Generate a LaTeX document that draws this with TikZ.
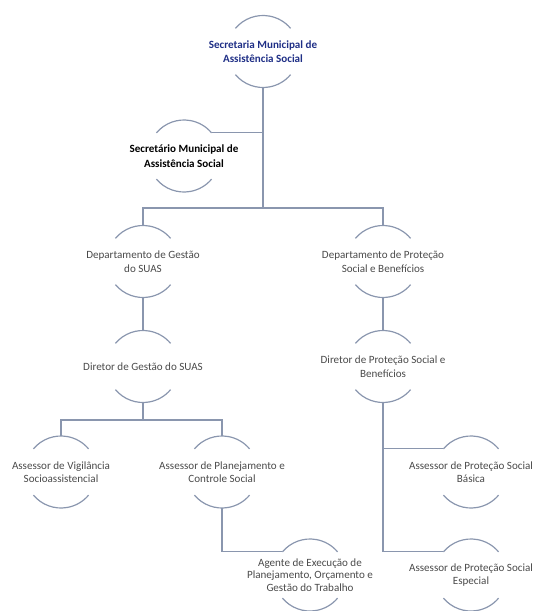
\documentclass[tikz,border=0pt]{standalone}
\usepackage{fontspec}
\setmainfont{Carlito}
\usepackage{xcolor}
\usetikzlibrary{positioning}

\definecolor{linegray}{HTML}{8A96AE}
\definecolor{textgray}{HTML}{4A4A4A}
\definecolor{headblue}{HTML}{1F2F86}

\begin{document}
\begin{tikzpicture}[
    x=0.75pt, y=-0.75pt,
    unit/.style={circle, minimum size=54pt, inner sep=0pt, outer sep=0pt},
    txt/.style={font=\fontsize{8.3}{10.2}\selectfont, text=textgray, align=center},
    arcline/.style={draw=linegray, line width=0.9pt},
    connector/.style={draw=linegray, line width=0.9pt},
]
    \useasboundingbox (0,0) rectangle (533,611);

    % Top of the chart
    \node[unit, label={[txt, text=headblue, font=\fontsize{8.3}{10.8}\selectfont\bfseries]center:Secretaria Municipal de\\Assistência Social}] (sec) at (263,51.5) {};
    \node[unit, label={[txt, text=black, font=\fontsize{8.3}{10.8}\selectfont\bfseries]center:Secretário Municipal de\\Assistência Social}] (secr) at (184,156) {};

    % Departments
    \node[unit, label={[txt]center:Departamento de Gestão\\do SUAS}] (depg) at (143,261.5) {};
    \node[unit, label={[txt]center:Departamento de Proteção\\Social e Benefícios}] (depp) at (383,261.5) {};

    % Directors
    \node[unit, label={[txt]center:Diretor de Gestão do SUAS}] (dirg) at (143,366.5) {};
    \node[unit, label={[txt]center:Diretor de Proteção Social e\\Benefícios}] (dirp) at (383,366.5) {};

    % Advisors
    \node[unit, label={[txt]center:Assessor de Vigilância\\Socioassistencial}] (vig) at (61,472) {};
    \node[unit, label={[txt]center:Assessor de Planejamento e\\Controle Social}] (plan) at (222,472) {};
    \node[unit, label={[txt, font=\fontsize{8.3}{9.4}\selectfont]center:Agente de Execução de\\Planejamento, Orçamento e\\Gestão do Trabalho}] (agen) at (310,575) {};
    \node[unit, label={[txt]center:Assessor de Proteção Social\\Básica}] (basi) at (471,472) {};
    \node[unit, label={[txt]center:Assessor de Proteção Social\\Especial}] (espe) at (471,575) {};

    % Arcs above and below each unit
    \foreach \n in {sec, secr, depg, depp, dirg, dirp, vig, plan, agen, basi, espe} {
        \draw[arcline] (\n.140) arc[start angle=140, end angle=40, radius=27pt];
        \draw[arcline] (\n.220) arc[start angle=220, end angle=320, radius=27pt];
    }

    % Junctions
    \coordinate (bus) at (263,208);
    \coordinate (busg) at (143,420);

    % Connect everything
    \draw[connector] (sec.south) -- (bus);
    \draw[connector] (secr.40) -| (sec.south);
    \draw[connector] (depg.north) |- (bus) -| (depp.north);
    \draw[connector] (depg.south) -- (dirg.north);
    \draw[connector] (depp.south) -- (dirp.north);
    \draw[connector] (dirg.south) -- (busg);
    \draw[connector] (vig.north) |- (busg) -| (plan.north);
    \draw[connector] (plan.south) |- (agen.140);
    \draw[connector] (dirp.south) |- (basi.140);
    \draw[connector] (dirp.south) |- (espe.140);
\end{tikzpicture}
\end{document}
